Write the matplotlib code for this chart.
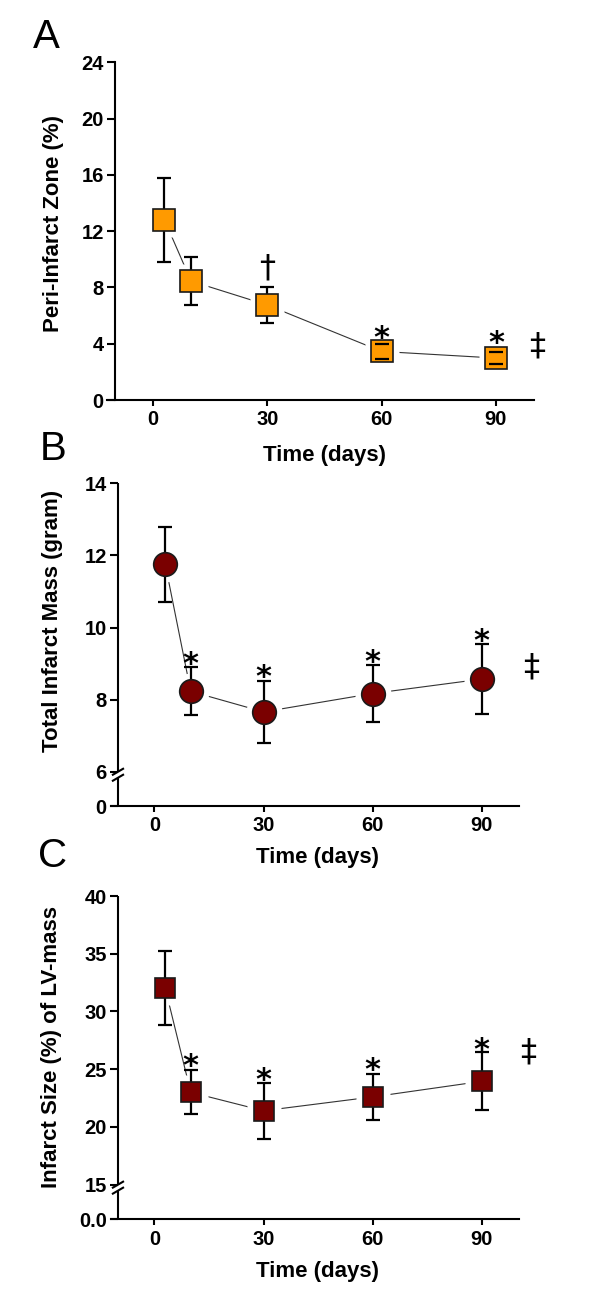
import matplotlib
matplotlib.use('Agg')
import matplotlib.pyplot as plt

plt.rcParams['font.family'] = ['Liberation Sans', 'DejaVu Sans']

# ---------------- data ----------------
days = [3, 10, 30, 60, 90]
x_ticks = [0, 30, 60, 90]
x_label = 'Time (days)'

peri_mean = [12.8, 8.45, 6.75, 3.45, 2.98]
peri_err = [3.0, 1.7, 1.25, 0.55, 0.45]
peri_yticks = [0, 4, 8, 12, 16, 20, 24]
peri_yticklabels = ['0', '4', '8', '12', '16', '20', '24']
peri_ylabel = 'Peri-Infarct Zone (%)'
peri_marks = [(30, 9.4, '†'), (60, 4.98, '*'), (90, 4.6, '*'), (100.8, 3.86, '‡')]

mass_mean = [11.75, 8.23, 7.66, 8.17, 8.57]
mass_err = [1.05, 0.67, 0.87, 0.80, 0.96]
mass_yticks = [5.05, 6, 8, 10, 12, 14]
mass_yticklabels = ['0', '6', '8', '10', '12', '14']
mass_ylabel = 'Total Infarct Mass (gram)'
mass_marks = [(10, 9.21, '*'), (30, 8.84, '*'), (60, 9.28, '*'), (90, 9.86, '*'), (103.5, 8.91, '‡')]

size_mean = [32.0, 23.0, 21.4, 22.6, 23.95]
size_err = [3.2, 1.92, 2.42, 1.98, 2.52]
size_yticks = [12, 15, 20, 25, 30, 35, 40]
size_yticklabels = ['0.0', '15', '20', '25', '30', '35', '40']
size_ylabel = 'Infarct Size (%) of LV-mass'
size_marks = [(10, 25.95, '*'), (30, 24.79, '*'), (60, 25.6, '*'), (90, 27.36, '*'), (102.7, 26.5, '‡')]

# ---------------- figure ----------------
W, H = 600, 1310
fig = plt.figure(figsize=(W / 100, H / 100), dpi=100)


def add_axes_px(left, right, top, bottom):
    return fig.add_axes([left / W, 1 - bottom / H, (right - left) / W, (bottom - top) / H])


def px_to_axes(ax, xp, yp):
    b = ax.get_position()
    return ((xp / W - b.x0) / b.width, ((1 - yp / H) - b.y0) / b.height)


TICK_FS = 14.5
LABEL_FS = 16


def style(ax, xlim, ylim, yticks, yticklabels):
    ax.set_xlim(*xlim)
    ax.set_ylim(*ylim)
    ax.spines['top'].set_visible(False)
    ax.spines['right'].set_visible(False)
    ax.spines['left'].set_position(('data', -10))
    ax.spines['left'].set_linewidth(1.5)
    ax.spines['bottom'].set_linewidth(1.5)
    ax.set_xticks(x_ticks)
    ax.set_xticklabels([str(t) for t in x_ticks])
    ax.set_yticks(yticks)
    ax.set_yticklabels(yticklabels)
    ax.tick_params(axis='y', length=5.5, width=1.5, pad=2.5, labelsize=TICK_FS)
    ax.tick_params(axis='x', length=4, width=1.5, pad=3.5, labelsize=TICK_FS)
    for lab in ax.get_xticklabels() + ax.get_yticklabels():
        lab.set_fontweight('bold')


def broken_left(ax, ybreak, gap_px):
    ax.spines['left'].set_visible(False)
    b = ax.get_position()
    ylo, yhi = ax.get_ylim()
    xlo, xhi = ax.get_xlim()
    upy = (yhi - ylo) / (b.height * H)
    upx = (xhi - xlo) / (b.width * W)
    ylow_top = ybreak - gap_px * upy
    kw = dict(color='black', lw=1.5, clip_on=False, solid_capstyle='butt', zorder=6)
    ax.plot([-10, -10], [ybreak, yhi], **kw)
    ax.plot([-10, -10], [ylo, ylow_top], **kw)
    for yc in (ybreak, ylow_top):
        ax.plot([-10 - 6 * upx, -10 + 6 * upx], [yc - 3.5 * upy, yc + 3.5 * upy], **kw)


def draw_series(ax, mean, err, marker, color, ms, halo_ms):
    ax.plot(days, mean, color='#333333', lw=0.8, zorder=1)
    ax.plot(days, mean, ls='none', marker=marker, ms=halo_ms, mfc='white', mec='none', zorder=2)
    eb = ax.errorbar(days, mean, yerr=err, fmt='none', ecolor='black', elinewidth=1.6,
                     capsize=4.8, capthick=1.6, zorder=3)
    ax.plot(days, mean, ls='none', marker=marker, ms=ms, mfc=color, mec='#1a1a1a',
            mew=1.2, zorder=4)
    for cap in eb[1]:
        cap.set_zorder(5)


def annotate_marks(ax, marks):
    for x, y, s in marks:
        if s == '*':
            fs, k, wt = 22, 0.56, 'bold'
        else:
            fs, k, wt = 23, 0.27, 'normal'
        ax.annotate(s, (x, y), xytext=(0, -k * fs), textcoords='offset points',
                    ha='center', va='baseline', fontsize=fs, family='DejaVu Sans',
                    fontweight=wt, annotation_clip=False, zorder=7)


def labels(ax, ylabel, ypos, xpos):
    ax.set_ylabel(ylabel, fontsize=LABEL_FS, fontweight='bold')
    ax.yaxis.label.set(ha='center', va='center', rotation_mode='default')
    ax.yaxis.set_label_coords(*px_to_axes(ax, *ypos))
    ax.set_xlabel(x_label, fontsize=LABEL_FS, fontweight='bold')
    ax.xaxis.label.set(ha='center', va='center')
    ax.xaxis.set_label_coords(*px_to_axes(ax, *xpos))


# Panel A
axA = add_axes_px(107.3, 534, 62.3, 400)
style(axA, (-12, 100), (0, 24), peri_yticks, peri_yticklabels)
draw_series(axA, peri_mean, peri_err, 's', '#FF9A00', 15.5, 25)
annotate_marks(axA, peri_marks)
labels(axA, peri_ylabel, (53.5, 224), (324.6, 455))

# Panel B
axB = add_axes_px(110.7, 519.3, 483.3, 806)
style(axB, (-12, 100.3), (5.05, 14), mass_yticks, mass_yticklabels)
broken_left(axB, 6, 6)
draw_series(axB, mass_mean, mass_err, 'o', '#7A0000', 17, 26)
annotate_marks(axB, mass_marks)
labels(axB, mass_ylabel, (52.5, 621), (318, 857.5))

# Panel C
axC = add_axes_px(110.7, 519.3, 896, 1219.3)
style(axC, (-12, 100.3), (12, 40), size_yticks, size_yticklabels)
broken_left(axC, 15, 6)
draw_series(axC, size_mean, size_err, 's', '#7A0000', 15, 25)
annotate_marks(axC, size_marks)
labels(axC, size_ylabel, (52, 1047), (318, 1272))

for letter, (xp, yp) in zip(['A', 'B', 'C'], [(33, 48), (40, 460), (38, 867)]):
    fig.text(xp / W, 1 - yp / H, letter, fontsize=29, ha='left', va='baseline')

fig.savefig('out.png', dpi=100, facecolor='white')
